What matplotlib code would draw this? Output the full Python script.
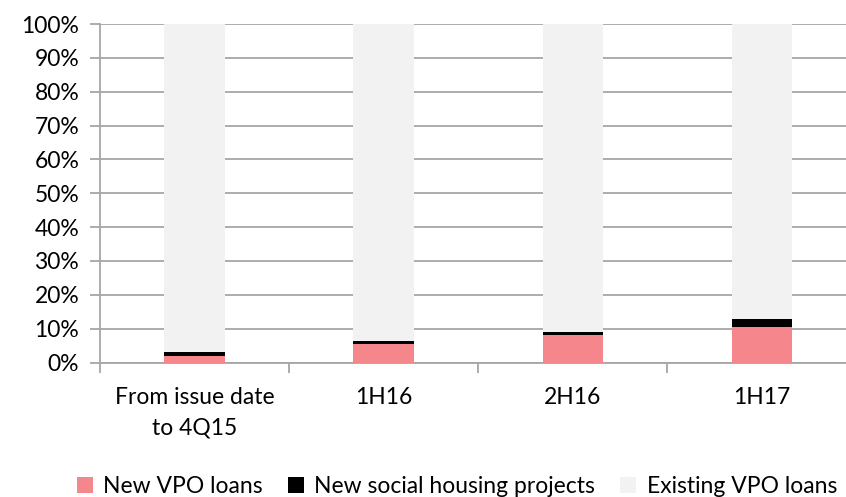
import matplotlib.pyplot as plt
import numpy as np

# Datos del grafico
categorias = ["From issue date\nto 4Q15", "1H16", "2H16", "1H17"]
new_vpo = [2.0, 5.4, 8.1, 10.5]
new_social = [1.0, 1.0, 1.0, 2.4]
existing_vpo = [100 - a - b for a, b in zip(new_vpo, new_social)]

plt.rcParams['font.family'] = ['Lato', 'DejaVu Sans']

fig = plt.figure(figsize=(8.46, 4.97), dpi=100)
ax = fig.add_axes([100 / 846, 134.5 / 497, 756.5 / 846, 338.5 / 497])

x = np.arange(len(categorias))
ancho = 0.32
b1 = ax.bar(x, new_vpo, ancho, color='#f4868c', label='New VPO loans', zorder=3)
b2 = ax.bar(x, new_social, ancho, bottom=new_vpo, color='#000000',
            label='New social housing projects', zorder=3)
base = [a + b for a, b in zip(new_vpo, new_social)]
b3 = ax.bar(x, existing_vpo, ancho, bottom=base, color='#f2f2f2',
            label='Existing VPO loans', zorder=3)

ax.set_xlim(-0.5, len(categorias) - 0.5)
ax.set_ylim(0, 100)
ax.set_yticks(np.arange(0, 101, 10))
ax.set_yticklabels([f'{v}%' for v in range(0, 101, 10)], fontsize=16.5)
ax.yaxis.grid(True, color='#a6a6a6', linewidth=1.3, zorder=0)
ax.set_axisbelow(True)

# Ticks del eje x en los limites de las categorias
ax.set_xticks(x)
ax.set_xticklabels(categorias, fontsize=16.5, linespacing=1.55)
ax.set_xticks(np.arange(-0.5, len(categorias), 1), minor=True)
ax.tick_params(axis='x', which='major', length=0, pad=18)
ax.tick_params(axis='x', which='minor', length=7, color='#a6a6a6', width=1.3)
ax.tick_params(axis='y', length=7, color='#a6a6a6', width=1.3, pad=8)

for lado in ['top', 'right']:
    ax.spines[lado].set_visible(False)
for lado in ['left', 'bottom']:
    ax.spines[lado].set_color('#a6a6a6')
    ax.spines[lado].set_linewidth(1.3)

fig.legend(handles=[b1, b2, b3], loc='center', bbox_to_anchor=(0.54, 0.022),
           ncol=3, frameon=False, fontsize=16.5, handlelength=0.7,
           handleheight=0.7, handletextpad=0.45, columnspacing=1.1)

plt.savefig('out.png', dpi=100)
